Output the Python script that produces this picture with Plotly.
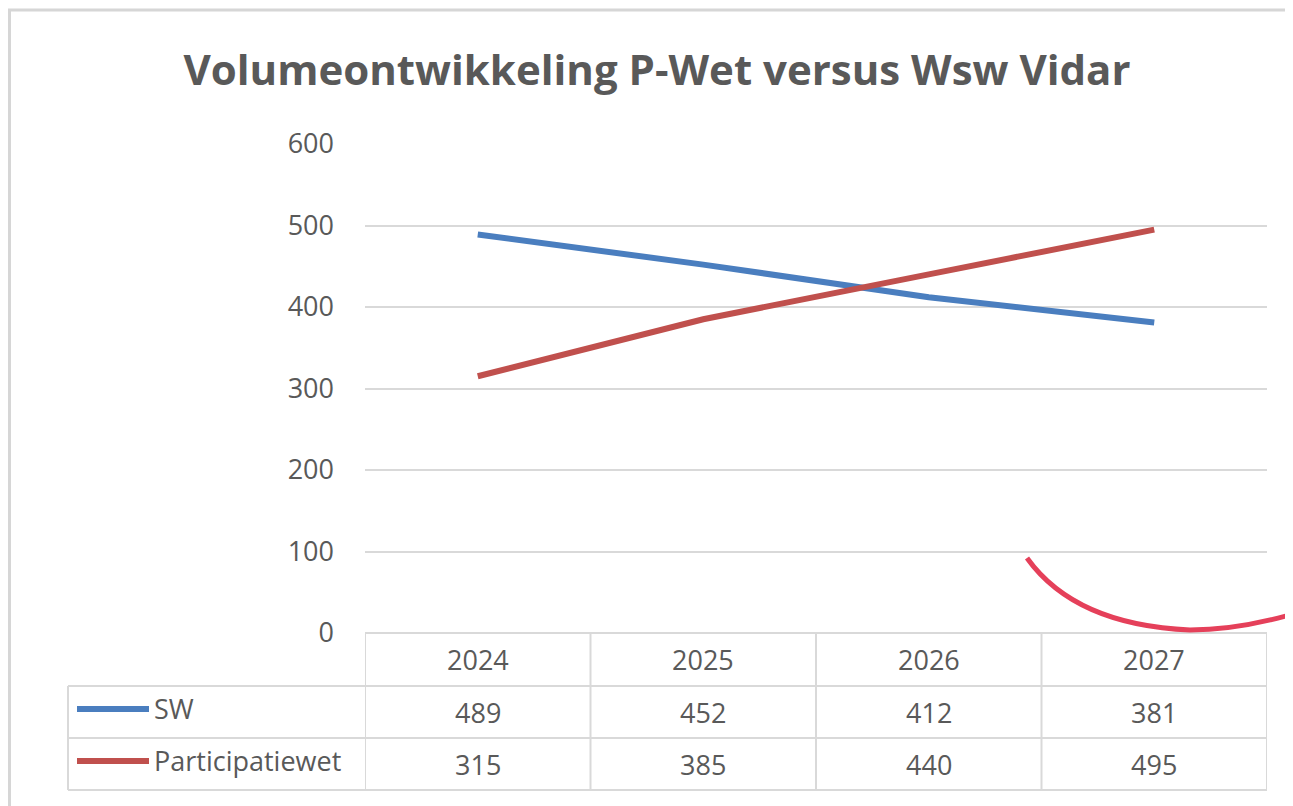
import plotly.graph_objects as go

years = ["2024", "2025", "2026", "2027"]
series_names = ["SW", "Participatiewet"]
sw_values = [489, 452, 412, 381]
pw_values = [315, 385, 440, 495]
y_ticks = [0, 100, 200, 300, 400, 500, 600]

# page has an 8px body margin; all screen positions below are shifted by OFF
OFF = 8
W, H = 1293 - OFF, 806 - OFF
L, T = 365 - OFF, 144 - OFF
R = W - (1267 - OFF)
B = H - (633 - OFF)
PW_ = W - L - R
PH_ = H - T - B

def px(x):
    return (x - OFF - L) / PW_

def py(y):
    return (H - B - (y - OFF)) / PH_

TXT = "#595959"
GRID = "#D9D9D9"
FONT = "Open Sans"
colors = ["#4A7EBF", "#C0504D"]
fs = 27

fig = go.Figure()
for name, vals, c in zip(series_names, [sw_values, pw_values], colors):
    fig.add_trace(go.Scatter(x=list(range(len(years))), y=vals, mode="lines", name=name,
                             line=dict(color=c, width=6), showlegend=False))

shapes = []
annotations = []
# outer frame
shapes.append(dict(type="rect", xref="paper", yref="paper", x0=px(9.5), x1=px(1320), y0=py(830), y1=py(10),
                   line=dict(color="#D6D6D6", width=3), layer="below"))
# data table
row_y = [633, 686, 738, 790]
n = len(years)
for i in range(n + 1):
    shapes.append(dict(type="line", xref="x", yref="paper", x0=i - 0.5, x1=i - 0.5, y0=py(row_y[-1]), y1=py(row_y[0]),
                       line=dict(color=GRID, width=2)))
shapes.append(dict(type="line", xref="paper", yref="paper", x0=px(68), x1=px(68), y0=py(row_y[-1]), y1=py(row_y[1]),
                   line=dict(color=GRID, width=2)))
for k, yy in enumerate(row_y):
    x0 = px(68) if k >= 1 else 0
    shapes.append(dict(type="line", xref="paper", yref="paper", x0=x0, x1=1, y0=py(yy), y1=py(yy),
                       line=dict(color=GRID, width=2)))

for i, yr in enumerate(years):
    annotations.append(dict(x=i, y=py((row_y[0] + row_y[1]) / 2), xref="x", yref="paper", text=yr,
                            xanchor="center", yanchor="middle",
                            showarrow=False, font=dict(size=fs, color=TXT, family=FONT)))
for r, (name, vals, c) in enumerate(zip(series_names, [sw_values, pw_values], colors)):
    yc = (row_y[r + 1] + row_y[r + 2]) / 2
    for i, v in enumerate(vals):
        annotations.append(dict(x=i, y=py(yc), xref="x", yref="paper", text=str(v),
                                xanchor="center", yanchor="middle",
                                showarrow=False, font=dict(size=fs, color=TXT, family=FONT)))
    shapes.append(dict(type="line", xref="paper", yref="paper", x0=px(77), x1=px(149), y0=py(yc - 3), y1=py(yc - 3),
                       line=dict(color=c, width=6)))
    annotations.append(dict(x=px(152), y=py(yc - 4), xref="paper", yref="paper", text=name, xanchor="left",
                            yanchor="middle",
                            showarrow=False, font=dict(size=fs, color=TXT, family=FONT)))

# hand-drawn red arc
def P(x, y):
    return f"{px(x)} {py(y)}"
arc = f"M {P(1027, 558)} Q {P(1075, 625)} {P(1190, 630)} Q {P(1240, 630)} {P(1300, 612)}"
shapes.append(dict(type="path", xref="paper", yref="paper", path=arc, line=dict(color="#E5405A", width=5)))

fig.update_layout(
    width=W, height=H,
    margin=dict(l=L, r=R, t=T, b=B),
    paper_bgcolor="white", plot_bgcolor="white",
    title=dict(text="<b>Volumeontwikkeling P-Wet versus Wsw Vidar</b>", x=(657 - OFF) / W, xanchor="center",
               y=1 - (70 - OFF) / H, yanchor="middle", font=dict(size=42, color=TXT, family=FONT)),
    xaxis=dict(range=[-0.5, n - 0.5], showticklabels=False, showgrid=False, zeroline=False, fixedrange=True),
    yaxis=dict(range=[0, 600], tickvals=y_ticks, showgrid=True, gridcolor=GRID, gridwidth=2, zeroline=False,
               tickfont=dict(size=fs, color=TXT, family=FONT), ticklabelstandoff=30, fixedrange=True),
    shapes=shapes, annotations=annotations,
)
fig.write_html("out.html")
